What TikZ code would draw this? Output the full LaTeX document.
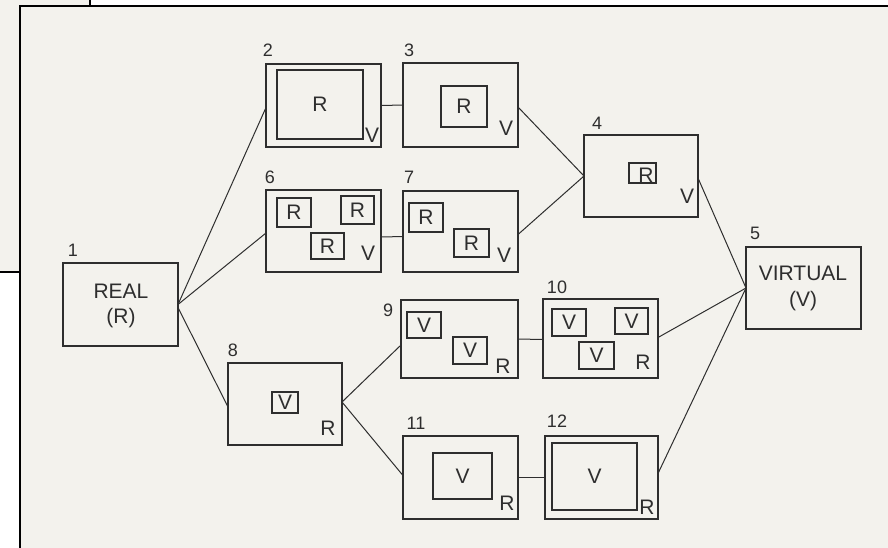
\documentclass[tikz,border=0pt]{standalone}
\usepackage{fontspec}
\setmainfont{Liberation Sans}
\definecolor{paper}{HTML}{F3F2ED}
\definecolor{ink}{HTML}{2E2E2E}
\begin{document}
\begin{tikzpicture}[x=1pt,y=-1pt,
  stagebox/.style={draw=ink, line width=1.2pt, inner sep=0pt, outer sep=0pt, anchor=north west},
  ibox/.style={draw=ink, line width=1.1pt, inner sep=0pt, outer sep=0pt, anchor=north west, text=ink, font=\fontsize{21}{23}\selectfont},
  lett/.style={text=ink, inner sep=0pt, font=\fontsize{21}{23}\selectfont},
  num/.style={text=ink, inner sep=0pt, font=\fontsize{18}{20}\selectfont},
  conn/.style={draw=ink, line width=1pt},
  panel/.style={draw=black, fill=paper, line width=2pt}]
% canvas
\useasboundingbox (0,0) rectangle (888,547);
\fill[white] (0,0) rectangle (888,547);
% back panel
\draw[panel] (-5,-5) rectangle (90,272);
% front panel
\draw[panel] (20,6) rectangle (893,552);

% stage boxes
\node[stagebox, minimum width=115pt, minimum height=83pt] (n1) at (63,263) {};
\node[stagebox, minimum width=115pt, minimum height=83pt] (n2) at (266,64) {};
\node[stagebox, minimum width=115pt, minimum height=84pt] (n3) at (403,63) {};
\node[stagebox, minimum width=114pt, minimum height=82pt] (n4) at (584,135) {};
\node[stagebox, minimum width=115pt, minimum height=82pt] (n5) at (746,247) {};
\node[stagebox, minimum width=115pt, minimum height=82pt] (n6) at (266,190) {};
\node[stagebox, minimum width=115pt, minimum height=81pt] (n7) at (403,191) {};
\node[stagebox, minimum width=114pt, minimum height=82pt] (n8) at (228,363) {};
\node[stagebox, minimum width=117pt, minimum height=78pt] (n9) at (401,300) {};
\node[stagebox, minimum width=115pt, minimum height=79pt] (n10) at (543,299) {};
\node[stagebox, minimum width=115pt, minimum height=83pt] (n11) at (403,436) {};
\node[stagebox, minimum width=113pt, minimum height=83pt] (n12) at (545,436) {};

% main texts
\node[lett] (t1a) at (121,291) {REAL};
\node[lett] (t1b) at (121,318) {(R)};
\node[lett] (t5a) at (803,273) {VIRTUAL};
\node[lett] (t5b) at (803,301) {(V)};

% inner boxes
\node[ibox, minimum width=86pt, minimum height=69pt] (i2) at (277,70) {R};
\node[ibox, minimum width=46pt, minimum height=41pt] (i3) at (441,86) {R};
\node[ibox, minimum width=27pt, minimum height=20pt] (i4) at (629,163) {};
\node[lett] (r4) at (646,175) {R};
\node[ibox, minimum width=34pt, minimum height=29pt] (i6a) at (277,198) {R};
\node[ibox, minimum width=33pt, minimum height=28pt] (i6b) at (341,196) {R};
\node[ibox, minimum width=33pt, minimum height=26pt] (i6c) at (311,233) {R};
\node[ibox, minimum width=34pt, minimum height=29pt] (i7a) at (409,203) {R};
\node[ibox, minimum width=35pt, minimum height=28pt] (i7b) at (454,229) {R};
\node[ibox, minimum width=26pt, minimum height=21pt] (i8) at (272,392) {V};
\node[ibox, minimum width=34pt, minimum height=26pt] (i9a) at (407,312) {V};
\node[ibox, minimum width=34pt, minimum height=27pt] (i9b) at (453,337) {V};
\node[ibox, minimum width=34pt, minimum height=27pt] (i10a) at (552,309) {V};
\node[ibox, minimum width=33pt, minimum height=26pt] (i10b) at (615,308) {V};
\node[ibox, minimum width=35pt, minimum height=27pt] (i10c) at (579,342) {V};
\node[ibox, minimum width=59pt, minimum height=46pt] (i11) at (433,453) {V};
\node[ibox, minimum width=85pt, minimum height=67pt] (i12) at (552,443) {V};

% corner letters
\node[lett] (c2) at (372,135) {V};
\node[lett] (c3) at (506,128) {V};
\node[lett] (c4) at (687,196) {V};
\node[lett] (c6) at (368,253) {V};
\node[lett] (c7) at (504,255) {V};
\node[lett] (c8) at (328,428) {R};
\node[lett] (c9) at (503,366) {R};
\node[lett] (c10) at (643,362) {R};
\node[lett] (c11) at (507,503) {R};
\node[lett] (c12) at (647,507) {R};

% numbers
\node[num] (l1) at (73,250) {1};
\node[num] (l2) at (268,50) {2};
\node[num] (l3) at (409,50) {3};
\node[num] (l4) at (597,123) {4};
\node[num] (l5) at (755,233) {5};
\node[num] (l6) at (270,177) {6};
\node[num] (l7) at (409,177) {7};
\node[num] (l8) at (233,350) {8};
\node[num] (l9) at (388,310) {9};
\node[num] (l10) at (557,287) {10};
\node[num] (l11) at (416,423) {11};
\node[num] (l12) at (557,421) {12};

% connectors
\draw[conn] (n1.east) -- ([yshift=-2pt]n2.west);
\draw[conn] (n1.east) -- ([yshift=-2pt]n6.west);
\draw[conn] ([yshift=-3pt]n1.east) -- ([yshift=-3pt]n8.west);
\draw[conn] (n2.east) -- ([yshift=0pt]n3.west);
\draw[conn] ([yshift=-6pt]n6.east) -- ([yshift=-5pt]n7.west);
\draw[conn] ([yshift=-2pt]n3.east) -- (n4.west);
\draw[conn] ([yshift=-3pt]n7.east) -- (n4.west);
\draw[conn] ([yshift=-2pt]n4.east) -- (n5.west);
\draw[conn] ([yshift=1pt]n10.east) -- (n5.west);
\draw[conn] ([yshift=4pt]n12.east) -- (n5.west);
\draw[conn] ([yshift=2pt]n8.east) -- ([yshift=-6pt]n9.west);
\draw[conn] ([yshift=2pt]n8.east) -- ([yshift=2pt]n11.west);
\draw[conn] (n9.east) -- ([yshift=-1pt]n10.west);
\draw[conn] (n11.east) -- (n12.west);
\end{tikzpicture}
\end{document}
